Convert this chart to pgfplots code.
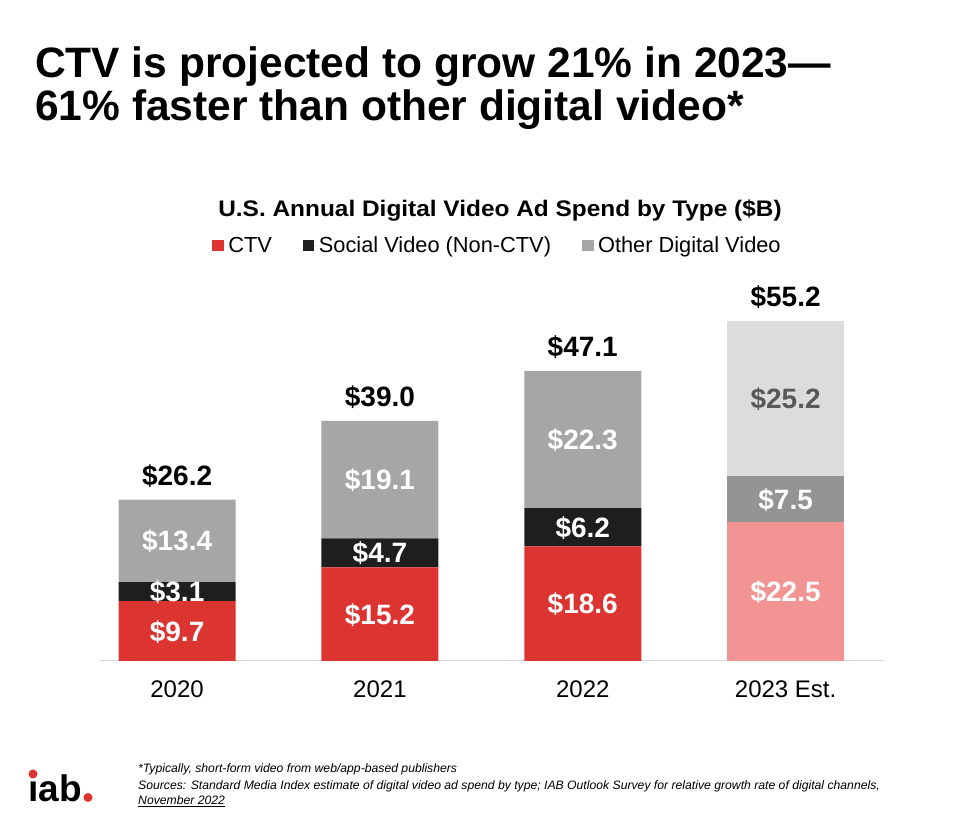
\documentclass[border=0pt]{standalone}
\usepackage{pgfplots}
\pgfplotsset{compat=1.18}
\usepackage{fontspec}
\setmainfont{Liberation Sans}
\definecolor{ctvred}{HTML}{DC3430}
\definecolor{socblack}{HTML}{1E1E1E}
\definecolor{othgrey}{HTML}{A6A6A6}
\definecolor{ctvpink}{HTML}{F29494}
\definecolor{socgrey}{HTML}{949494}
\definecolor{othlight}{HTML}{DCDCDC}
\definecolor{lbldark}{HTML}{595959}
\definecolor{axisgrey}{HTML}{D9D9D9}
\newcommand{\fs}[1]{\fontsize{#1bp}{#1bp}\selectfont}
\pgfplotsset{
  baseaxis/.style={
    at={(100bp,163bp)}, anchor=south west,
    scale only axis, width=785bp, height=369.6bp,
    xmin=-0.38, xmax=3.49, ymin=0, ymax=60,
    ybar stacked, bar width=117bp,
    clip=false,
  },
}
\begin{document}
\begin{tikzpicture}[x=1bp,y=1bp,
  lbl/.style={anchor=base, yshift=-10bp, font=\fs{28}\bfseries, text=white, inner sep=0pt},
  tot/.style={anchor=base, yshift=14bp, font=\fs{28}\bfseries, text=black, inner sep=0pt}]
\path[use as bounding box] (0,0) rectangle (968,824);
% Titles
\node[anchor=base west, inner sep=0pt, font=\fs{42.5}\bfseries] at (35,746.5) {CTV is projected to grow 21\% in 2023—};
\node[anchor=base west, inner sep=0pt, font=\fs{42.5}\bfseries] at (35,703.5) {61\% faster than other digital video*};
\node[anchor=base, inner sep=0pt, font=\fs{22.5}\bfseries] at (500,607) {\scalebox{1.085}[1]{U.S. Annual Digital Video Ad Spend by Type (\$B)}};

\begin{axis}[baseaxis,
  axis x line*=bottom, hide y axis,
  x axis line style={axisgrey, line width=1bp, -},
  xtick={0,1,2,3}, xticklabels={2020,2021,2022,2023 Est.},
  major tick length=0pt,
  xticklabel style={anchor=base, yshift=-37bp, font=\fs{24}},
  legend style={at={(axis description cs:0.5063,1.124)}, anchor=center, draw=none,
    legend columns=3, font=\fs{21.8}, inner sep=0pt,
    /tikz/every even column/.append style={column sep=29bp}},
  legend image code/.code={\fill[#1] (0bp,-5.5bp) rectangle (11.5bp,5.5bp); \path (0bp,0bp) -- (14bp,0bp);},
]
\addplot[fill=ctvred, draw=none] coordinates {(0,9.7) (1,15.2) (2,18.6)};
\addlegendentry{CTV}
\addplot[fill=socblack, draw=none] coordinates {(0,3.1) (1,4.7) (2,6.2)};
\addlegendentry{Social Video (Non-CTV)}
\addplot[fill=othgrey, draw=none] coordinates {(0,13.4) (1,19.1) (2,22.3)};
\addlegendentry{Other Digital Video}
\end{axis}

\begin{axis}[baseaxis, hide axis]
\addplot[fill=ctvpink, draw=none] coordinates {(3,22.5)};
\addplot[fill=socgrey, draw=none] coordinates {(3,7.5)};
\addplot[fill=othlight, draw=none] coordinates {(3,25.2)};
\end{axis}

% value labels, drawn over the bars
\begin{axis}[baseaxis, hide axis]
\node[lbl] at (axis cs:0,4.85) {\$9.7};
\node[lbl] at (axis cs:0,11.25) {\$3.1};
\node[lbl] at (axis cs:0,19.5) {\$13.4};
\node[lbl] at (axis cs:1,7.6) {\$15.2};
\node[lbl] at (axis cs:1,17.55) {\$4.7};
\node[lbl] at (axis cs:1,29.45) {\$19.1};
\node[lbl] at (axis cs:2,9.3) {\$18.6};
\node[lbl] at (axis cs:2,21.7) {\$6.2};
\node[lbl] at (axis cs:2,35.95) {\$22.3};
\node[lbl] at (axis cs:3,11.25) {\$22.5};
\node[lbl] at (axis cs:3,26.25) {\$7.5};
\node[lbl, text=lbldark] at (axis cs:3,42.6) {\$25.2};
\node[tot] at (axis cs:0,26.2) {\$26.2};
\node[tot] at (axis cs:1,39.0) {\$39.0};
\node[tot] at (axis cs:2,47.1) {\$47.1};
\node[tot] at (axis cs:3,55.2) {\$55.2};
\end{axis}

% footnotes
\node[anchor=base west, inner sep=0pt, font=\fs{12.2}\itshape] at (138,51) {*Typically, short-form video from web/app-based publishers};
\node[anchor=base west, inner sep=0pt, font=\fs{12.2}\itshape] at (138,34) {Sources: Standard Media Index estimate of digital video ad spend by type; IAB Outlook Survey for relative growth rate of digital channels,};
\node[anchor=base west, inner sep=0pt, font=\fs{12.2}\itshape] at (138,19) {\underline{November 2022}};
% logo
\node[anchor=base west, inner sep=0pt, font=\fs{37}\bfseries] at (28,22.5) {ıab};
\fill[ctvred] (33,50) circle (4.5);
\fill[ctvred] (88,26.5) circle (4.5);
\end{tikzpicture}
\end{document}
